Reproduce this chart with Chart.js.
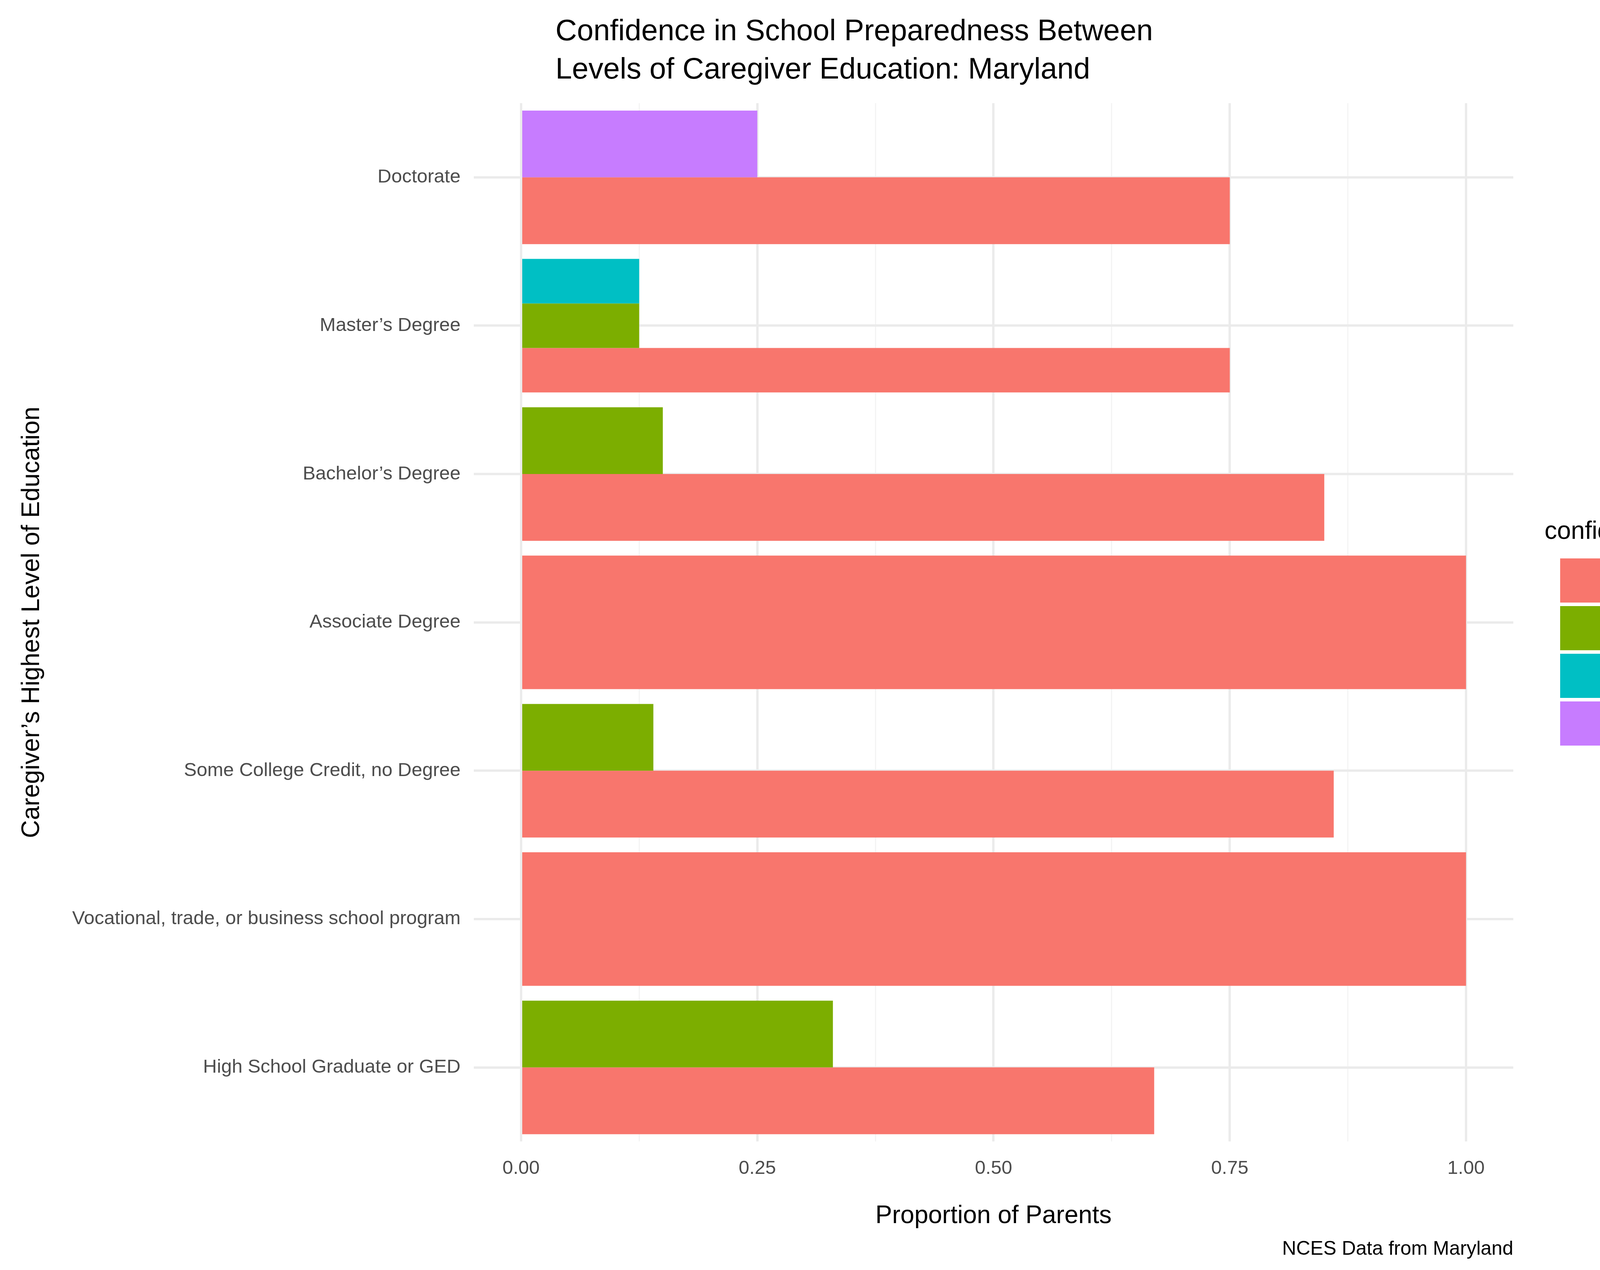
<!DOCTYPE html>
<html><head><meta charset="utf-8">
<script src="https://cdn.jsdelivr.net/npm/chart.js@4"></script>
<style>
html,body{margin:0;background:#fff;font-family:"Liberation Sans",Arial,sans-serif;overflow:hidden}
#wrap{position:relative;width:4750px;height:3250px;overflow:hidden}
#c{display:block;width:4750px;height:3250px}
#title{position:absolute;left:1422px;top:28px;font-size:76px;line-height:98px;color:#000}
#caption{position:absolute;right:876px;top:3165px;font-size:50px;color:#000}
#legend{position:absolute;left:3954px;top:1320px;color:#000}
#legend .t{font-size:64px;margin-bottom:30px}
#legend .row{display:flex;align-items:center;height:122px;margin-left:40px}
#legend .box{width:113px;height:113px;margin-right:43px}
#legend .lab{font-size:52px}
</style></head><body>
<div id="wrap">
<canvas id="c" width="4750" height="3250"></canvas>
<div id="title">Confidence in School Preparedness Between<br>Levels of Caregiver Education: Maryland</div>
<div id="caption">NCES Data from Maryland</div>
<div id="legend"></div>
</div>
<script>
const education = ['Doctorate', 'Master\u2019s Degree', 'Bachelor\u2019s Degree', 'Associate Degree',
  'Some College Credit, no Degree', 'Vocational, trade, or business school program', 'High School Graduate or GED'];
const completely = [0.75, 0.75, 0.85, 1.00, 0.86, 1.00, 0.67];
const mostly = [null, 0.125, 0.15, null, 0.14, null, 0.33];
const somewhat = [null, 0.125, null, null, null, null, null];
const notAtAll = [0.25, null, null, null, null, null, null];
const xTicks = ['0.00', '0.25', '0.50', '0.75', '1.00'];
const levels = ['Completely confident', 'Mostly confident', 'Somewhat confident', 'Not at all confident'];
const colors = ['#F8766D', '#7CAE00', '#00BFC4', '#C77CFF'];

// legend built as html, ggplot style
let html = '<div class="t">confident</div>';
levels.forEach(function (l, i) {
  html += '<div class="row"><div class="box" style="background:' + colors[i] + '"></div><span class="lab">' + l + '</span></div>';
});
document.getElementById('legend').innerHTML = html;

const tickFont = {family: 'Liberation Sans', size: 49};
new Chart(document.getElementById('c'), {
  type: 'bar',
  data: {
    labels: education,
    datasets: [
      {label: levels[3], data: notAtAll, backgroundColor: colors[3]},
      {label: levels[2], data: somewhat, backgroundColor: colors[2]},
      {label: levels[1], data: mostly, backgroundColor: colors[1]},
      {label: levels[0], data: completely, backgroundColor: colors[0]}
    ]
  },
  options: {
    indexAxis: 'y',
    responsive: false,
    devicePixelRatio: 1,
    animation: false,
    skipNull: true,
    categoryPercentage: 0.9,
    barPercentage: 1,
    layout: {padding: {top: 264, bottom: 95, left: 40, right: 876}},
    scales: {
      x: {
        min: -0.05, max: 1.05,
        afterBuildTicks: function (axis) {
          const t = [];
          for (let i = 0; i <= 8; i++) t.push({value: i * 0.125});
          axis.ticks = t;
        },
        border: {display: false},
        grid: {
          color: function (ctx) { return Math.round(ctx.tick.value * 8) % 2 === 0 ? '#ebebeb' : '#f4f4f4'; },
          lineWidth: function (ctx) { return Math.round(ctx.tick.value * 8) % 2 === 0 ? 6 : 3; },
          drawTicks: false
        },
        ticks: {
          color: '#4d4d4d', font: tickFont, padding: 40, autoSkip: false, maxRotation: 0,
          callback: function (v) {
            const k = Math.round(v * 8);
            return k % 2 === 0 ? xTicks[k / 2] : '';
          }
        },
        title: {display: true, text: 'Proportion of Parents', color: '#000',
          font: {family: 'Liberation Sans', size: 64}, padding: {top: 14}}
      },
      y: {
        border: {display: false},
        grid: {color: '#ebebeb', lineWidth: 6, offset: false, drawTicks: false},
        ticks: {color: '#4d4d4d', font: tickFont, padding: 34},
        title: {display: true, text: 'Caregiver\u2019s Highest Level of Education', color: '#000',
          font: {family: 'Liberation Sans', size: 64}, padding: {bottom: 30}}
      }
    },
    plugins: {
      tooltip: {enabled: false},
      legend: {display: false}
    }
  }
});
</script>
</body></html>
